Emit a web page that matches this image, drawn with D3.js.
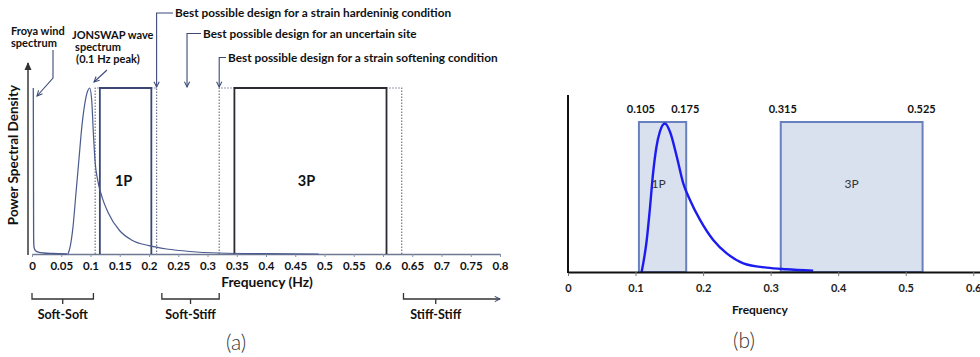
<!DOCTYPE html>
<html>
<head>
<meta charset="utf-8">
<script src="https://cdn.jsdelivr.net/npm/d3@7"></script>
<style>
  body { margin: 0; background: #fff; }
  svg { display: block; font-family: Lato, "Open Sans", sans-serif; }
  .bold { font-weight: bold; }
</style>
</head>
<body>
<svg width="980" height="357"></svg>
<script>

// ---- panel (a) data ----
var ticksA = [0, 0.05, 0.1, 0.15, 0.2, 0.25, 0.3, 0.35, 0.4, 0.45, 0.5, 0.55, 0.6, 0.65, 0.7, 0.75, 0.8];
var tickLabelsA = ["0", "0.05", "0.1", "0.15", "0.2", "0.25", "0.3", "0.35", "0.4", "0.45", "0.5", "0.55", "0.6", "0.65", "0.7", "0.75", "0.8"];

var froyaF = [0.0022, 0.0025, 0.0028, 0.0035, 0.006, 0.012, 0.02, 0.035, 0.06];
var froyaV = [1.0, 0.55, 0.1, 0.04, 0.02, 0.01, 0.006, 0.003, 0.0];

var jonswapF = [0.0615, 0.065, 0.07, 0.075, 0.08, 0.085, 0.09, 0.095, 0.0985, 0.102, 0.105, 0.108, 0.112, 0.12, 0.13, 0.15, 0.17, 0.2, 0.23, 0.27, 0.32, 0.4, 0.49];
var jonswapV = [0.0, 0.04, 0.16, 0.36, 0.56, 0.76, 0.9, 0.98, 1.0, 0.93, 0.72, 0.55, 0.45, 0.34, 0.25, 0.14, 0.085, 0.05, 0.03, 0.015, 0.006, 0.002, 0.0];

var box1PA = [0.116, 0.204];
var box3PA = [0.346, 0.606];
var hardenBox = [0.108, 0.213];
var softenBox = [0.32, 0.632];
var uncertainF = 0.265;

var softSoft = [0, 0.105];
var softStiff = [0.222, 0.32];
var stiffStiff = [0.635, 0.8];

// ---- panel (b) data ----
var ticksB = [0, 0.1, 0.2, 0.3, 0.4, 0.5, 0.6];
var tickLabelsB = ["0", "0.1", "0.2", "0.3", "0.4", "0.5", "0.6"];
var boxNamesB = ["1P", "3P"];
var boxLoB = [0.105, 0.315];
var boxHiB = [0.175, 0.525];
var boxLoLabels = ["0.105", "0.315"];
var boxHiLabels = ["0.175", "0.525"];

var specF = [0.109, 0.1165, 0.121, 0.126, 0.131, 0.136, 0.1435, 0.151, 0.161, 0.1707, 0.1806, 0.1955, 0.215, 0.235, 0.2596, 0.294, 0.323, 0.363];
var specV = [0.0, 0.21, 0.41, 0.66, 0.835, 0.935, 0.99, 0.935, 0.77, 0.59, 0.48, 0.347, 0.213, 0.124, 0.058, 0.029, 0.018, 0.009];

var svg = d3.select("svg");

var defs = svg.append("defs");
defs.append("marker")
    .attr("id", "chev")
    .attr("viewBox", "0 0 8 8")
    .attr("refX", 7).attr("refY", 4)
    .attr("markerWidth", 7).attr("markerHeight", 7)
    .attr("markerUnits", "userSpaceOnUse")
    .attr("orient", "auto")
  .append("path")
    .attr("d", "M1,1 L7,4 L1,7")
    .attr("fill", "none")
    .attr("stroke", "#3c4a78")
    .attr("stroke-width", 1.2);
defs.append("marker")
    .attr("id", "tri")
    .attr("viewBox", "0 0 8 8")
    .attr("refX", 7).attr("refY", 4)
    .attr("markerWidth", 8).attr("markerHeight", 8)
    .attr("markerUnits", "userSpaceOnUse")
    .attr("orient", "auto")
  .append("path")
    .attr("d", "M0,0.5 L8,4 L0,7.5 Z")
    .attr("fill", "#333");

// =============== panel (a) ===============
var xa = d3.scaleLinear().domain([0, 0.8]).range([32, 500]);
var ya = d3.scaleLinear().domain([0, 1]).range([254, 88]);

var ga = svg.append("g");

// x axis
var axA = ga.append("g")
    .attr("transform", "translate(0," + ya(0) + ")")
    .call(d3.axisBottom(xa).tickValues(ticksA).tickSize(3).tickSizeOuter(0)
      .tickFormat(function(d, i) { return tickLabelsA[i]; }));
axA.select(".domain").attr("stroke", "#6f7892").attr("stroke-width", 1.5);
axA.selectAll(".tick line").attr("stroke", "#8a92a8");
axA.selectAll(".tick text")
    .attr("class", "bold")
    .attr("dy", "0.85em")
    .attr("fill", "#111")
    .style("font-size", "11.5px")
    .style("font-family", "Lato, 'Open Sans', sans-serif");

// y axis arrow
ga.append("line")
    .attr("x1", 28).attr("x2", 28)
    .attr("y1", ya(0) + 1).attr("y2", 63)
    .attr("stroke", "#444").attr("stroke-width", 1.6)
    .attr("marker-end", "url(#tri)");

ga.append("text")
    .attr("class", "bold")
    .attr("transform", "translate(18," + 155 + ") rotate(-90)")
    .attr("text-anchor", "middle")
    .style("font-size", "13.5px")
    .attr("fill", "#111")
    .text("Power Spectral Density");

ga.append("text")
    .attr("class", "bold")
    .attr("x", 267).attr("y", 287)
    .attr("text-anchor", "middle")
    .style("font-size", "13.8px")
    .attr("fill", "#111")
    .text("Frequency (Hz)");

// dotted design boxes
function dottedBox(r) {
  ga.append("path")
      .attr("d", "M" + xa(r[0]) + "," + ya(0) + "V" + ya(1) + "H" + xa(r[1]) + "V" + ya(0))
      .attr("fill", "none")
      .attr("stroke", "#6f7788")
      .attr("stroke-width", 1.2)
      .attr("stroke-dasharray", "1.5,1.5");
}
dottedBox(hardenBox);
dottedBox(softenBox);

// solid 1P / 3P boxes
ga.append("path")
    .attr("d", "M" + xa(box1PA[0]) + "," + ya(0) + "V" + ya(1) + "H" + xa(box1PA[1]) + "V" + ya(0))
    .attr("fill", "none").attr("stroke", "#3b4672").attr("stroke-width", 1.8);
ga.append("path")
    .attr("d", "M" + xa(box3PA[0]) + "," + ya(0) + "V" + ya(1) + "H" + xa(box3PA[1]) + "V" + ya(0))
    .attr("fill", "none").attr("stroke", "#2a2a30").attr("stroke-width", 1.8);

ga.append("text").attr("class", "bold")
    .attr("x", xa((box1PA[0] + box1PA[1]) / 2) - 2).attr("y", 186)
    .attr("text-anchor", "middle").style("font-size", "14.5px").attr("fill", "#111")
    .text("1P");
ga.append("text").attr("class", "bold")
    .attr("x", xa((box3PA[0] + box3PA[1]) / 2) - 4).attr("y", 186)
    .attr("text-anchor", "middle").style("font-size", "14.5px").attr("fill", "#111")
    .text("3P");

// spectra
var lineA = d3.line()
    .x(function(d) { return xa(d[0]); })
    .y(function(d) { return ya(d[1]); })
    .curve(d3.curveMonotoneX);

ga.append("path")
    .datum(d3.zip(froyaF, froyaV))
    .attr("d", lineA)
    .attr("fill", "none").attr("stroke", "#4a5a8e").attr("stroke-width", 1.3);
ga.append("path")
    .datum(d3.zip(jonswapF, jonswapV))
    .attr("d", lineA)
    .attr("fill", "none").attr("stroke", "#4a5a8e").attr("stroke-width", 1.2);

// annotations
function ann(lines, x, y, anchor, size, gap) {
  var t = ga.append("text").attr("class", "bold")
      .attr("text-anchor", anchor || "start")
      .style("font-size", (size || 11.8) + "px").attr("fill", "#111");
  lines.forEach(function(s, i) {
    t.append("tspan").attr("x", x).attr("y", y + i * (gap || 11)).text(s);
  });
}
ann(["Froya wind", "spectrum"], 11, 35, "start", 11, 12);
ann(["JONSWAP wave"], 72, 39, "start", 11);
ann(["spectrum"], 98, 51, "middle", 11);
ann(["(0.1 Hz peak)"], 108, 63, "middle", 11);
ann(["Best possible design for a strain hardeninig condition"], 175, 17);
ann(["Best possible design for an uncertain site"], 203, 37.5);
ann(["Best possible design for a strain softening condition"], 228, 61.5);

var annStroke = "#3c4a78";
ga.append("path")
    .attr("d", "M53,50 V78 L37,96")
    .attr("fill", "none").attr("stroke", annStroke).attr("stroke-width", 1.1)
    .attr("marker-end", "url(#chev)");
ga.append("path")
    .attr("d", "M107,70 L94,82")
    .attr("fill", "none").attr("stroke", annStroke).attr("stroke-width", 1.1)
    .attr("marker-end", "url(#chev)");
ga.append("path")
    .attr("d", "M173,13 H" + xa(hardenBox[1]) + " V" + (ya(1) - 1))
    .attr("fill", "none").attr("stroke", annStroke).attr("stroke-width", 1.1)
    .attr("marker-end", "url(#chev)");
ga.append("path")
    .attr("d", "M201,33.5 H" + xa(uncertainF) + " V" + (ya(1) - 1))
    .attr("fill", "none").attr("stroke", annStroke).attr("stroke-width", 1.1)
    .attr("marker-end", "url(#chev)");
ga.append("path")
    .attr("d", "M226,57.5 H" + xa(softenBox[0]) + " V" + (ya(1) - 1))
    .attr("fill", "none").attr("stroke", annStroke).attr("stroke-width", 1.1)
    .attr("marker-end", "url(#chev)");

// stiffness brackets
function bracket(r, label, arrow) {
  var x0 = xa(r[0]), x1 = xa(r[1]), xm = (x0 + x1) / 2;
  if (arrow) xm = xa((r[0] + r[1]) / 2) - 16;
  ga.append("path")
      .attr("d", "M" + x0 + ",293 V299 H" + x1 + (arrow ? "" : " V293"))
      .attr("fill", "none").attr("stroke", "#333").attr("stroke-width", 1.3)
      .attr("marker-end", arrow ? "url(#chev)" : null);
  ga.append("path")
      .attr("d", "M" + xm + ",299 V304")
      .attr("fill", "none").attr("stroke", "#333").attr("stroke-width", 1.3);
  ga.append("text").attr("class", "bold")
      .attr("x", xm).attr("y", 319)
      .attr("text-anchor", "middle").style("font-size", "12.5px").attr("fill", "#111")
      .text(label);
}
bracket(softSoft, "Soft-Soft");
bracket(softStiff, "Soft-Stiff");
bracket(stiffStiff, "Stiff-Stiff", true);

ga.append("text")
    .attr("x", 236).attr("y", 350)
    .attr("text-anchor", "middle")
    .style("font-size", "21px").style("font-weight", 300)
    .attr("fill", "#333")
    .text("(a)");

// =============== panel (b) ===============
var xb = d3.scaleLinear().domain([0, 0.61]).range([568, 980]);
var yb = d3.scaleLinear().domain([0, 1]).range([272, 122]);

var gb = svg.append("g");

gb.selectAll("rect.band")
    .data(boxNamesB)
  .enter().append("rect")
    .attr("class", "band")
    .attr("x", function(d, i) { return xb(boxLoB[i]); })
    .attr("width", function(d, i) { return xb(boxHiB[i]) - xb(boxLoB[i]); })
    .attr("y", yb(1))
    .attr("height", yb(0) - yb(1))
    .attr("fill", "#d9e0ee")
    .attr("stroke", "#6880bd")
    .attr("stroke-width", 2);

gb.selectAll("text.bname")
    .data(boxNamesB)
  .enter().append("text")
    .attr("class", "bname")
    .attr("x", function(d, i) { return xb((boxLoB[i] + boxHiB[i]) / 2) - (i === 0 ? 4 : 0); })
    .attr("y", 188)
    .attr("text-anchor", "middle")
    .style("font-size", "12px")
    .attr("fill", "#333")
    .text(function(d) { return d; });

gb.selectAll("text.lo")
    .data(boxLoLabels)
  .enter().append("text")
    .attr("class", "bold")
    .attr("x", function(d, i) { return xb(boxLoB[i]) + 2; })
    .attr("y", 113)
    .attr("text-anchor", "middle")
    .style("font-size", "11px").attr("fill", "#111")
    .text(function(d) { return d; });
gb.selectAll("text.hi")
    .data(boxHiLabels)
  .enter().append("text")
    .attr("class", "bold")
    .attr("x", function(d, i) { return xb(boxHiB[i]) - 1; })
    .attr("y", 113)
    .attr("text-anchor", "middle")
    .style("font-size", "11px").attr("fill", "#111")
    .text(function(d) { return d; });

var lineB = d3.line()
    .x(function(d) { return xb(d[0]); })
    .y(function(d) { return yb(d[1]); })
    .curve(d3.curveMonotoneX);

gb.append("path")
    .datum(d3.zip(specF, specV))
    .attr("d", lineB)
    .attr("fill", "none").attr("stroke", "#1c1cf0").attr("stroke-width", 2.4);

var axB = gb.append("g")
    .attr("transform", "translate(0," + yb(0) + ")")
    .call(d3.axisBottom(xb).tickValues(ticksB).tickSize(4).tickSizeOuter(0)
      .tickFormat(function(d, i) { return tickLabelsB[i]; }));
axB.select(".domain").attr("stroke", "#111").attr("stroke-width", 2);
axB.selectAll(".tick line").attr("stroke", "#777");
axB.selectAll(".tick text")
    .attr("class", "bold")
    .attr("dy", "1.15em")
    .attr("fill", "#222")
    .style("font-size", "11px")
    .style("font-family", "Lato, 'Open Sans', sans-serif");

gb.append("line")
    .attr("x1", xb(0)).attr("x2", xb(0))
    .attr("y1", yb(0) + 1).attr("y2", 95)
    .attr("stroke", "#111").attr("stroke-width", 2);

gb.append("text").attr("class", "bold")
    .attr("x", 760).attr("y", 314)
    .attr("text-anchor", "middle")
    .style("font-size", "12px").attr("fill", "#111")
    .text("Frequency");

gb.append("text")
    .attr("x", 744).attr("y", 348)
    .attr("text-anchor", "middle")
    .style("font-size", "21px").style("font-weight", 300)
    .attr("fill", "#333")
    .text("(b)");

</script>
</body>
</html>
